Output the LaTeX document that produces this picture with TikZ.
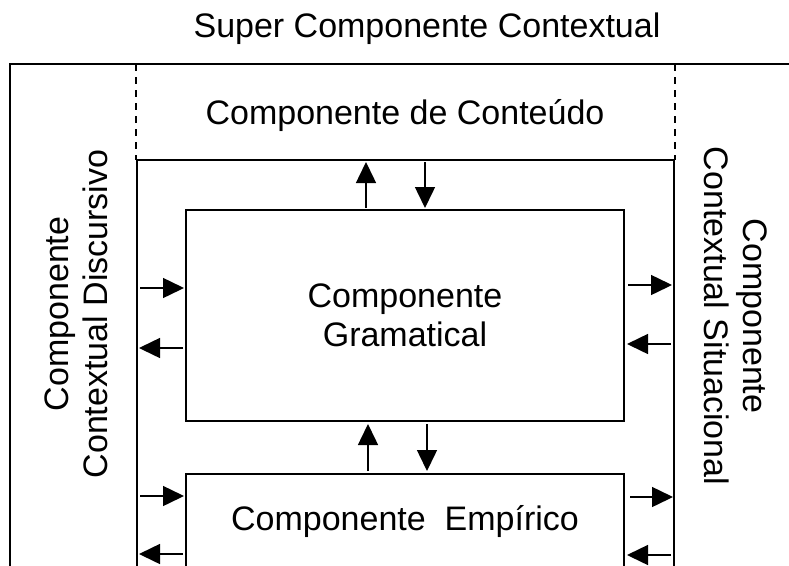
\documentclass[tikz,border=0pt]{standalone}
\usepackage{fontspec}
\setmainfont{Liberation Sans}
\usetikzlibrary{arrows.meta}
\begin{document}
\begin{tikzpicture}[x=1pt,y=-1pt,
  frame/.style={line width=1.4pt,draw=black},
  divline/.style={line width=1.3pt,dash pattern=on 7pt off 6pt},
  flow/.style={line width=1.5pt,-{Triangle[length=21pt,width=20pt]}},
  lbl/.style={font=\fontsize{34}{39}\selectfont,align=center,inner sep=0pt}]
\useasboundingbox (0,0) rectangle (789,565);
\clip (0,0) rectangle (789,565);
% title
\node[lbl] (title) at (427,29) {Super Componente Contextual};
% outer frame
\coordinate (oTL) at (10,64);
\coordinate (oTR) at (790,64);
\coordinate (oBL) at (10,566);
\draw[frame] (oBL) -- (oTL) -- (oTR);
% dashed dividers
\coordinate (dL1) at (136,64); \coordinate (dL2) at (136,160);
\coordinate (dR1) at (675,64); \coordinate (dR2) at (675,160);
\draw[divline] (dL1) -- (dL2);
\draw[divline] (dR1) -- (dR2);
% content box (middle)
\coordinate (mTL) at (137,160); \coordinate (mTR) at (674,160);
\coordinate (mBL) at (137,566); \coordinate (mBR) at (674,566);
\draw[frame] (mBL) -- (mTL) -- (mTR) -- (mBR);
\node[lbl] (conteudo) at (405,116) {Componente de Conteúdo};
% gramatical box
\node[frame,minimum width=438pt,minimum height=211pt,inner sep=0pt] (gram) at (405,315.5) {};
\node[lbl] at (gram.center) (gramtxt) {Componente\\Gramatical};
% empirico box
\coordinate (eTL) at (186,474); \coordinate (eTR) at (624,474);
\coordinate (eBL) at (186,566); \coordinate (eBR) at (624,566);
\draw[frame] (eBL) -- (eTL) -- (eTR) -- (eBR);
\node[lbl] (emp) at (405,522) {Componente\ \ Empírico};
% side labels
\node[lbl,rotate=90] (left) at (76,314) {Componente\\Contextual Discursivo};
\node[lbl,rotate=-90] (right) at (736,316) {Componente\\Contextual Situacional};
% vertical arrows top
\coordinate (t1a) at (366,208); \coordinate (t1b) at (366,162);
\coordinate (t2a) at (425,162); \coordinate (t2b) at (425,208);
\draw[flow] (t1a) -- (t1b);
\draw[flow] (t2a) -- (t2b);
% vertical arrows bottom
\coordinate (b1a) at (368,471); \coordinate (b1b) at (368,424);
\coordinate (b2a) at (427,424); \coordinate (b2b) at (427,471);
\draw[flow] (b1a) -- (b1b);
\draw[flow] (b2a) -- (b2b);
% left arrows
\coordinate (l1a) at (140,288); \coordinate (l1b) at (184,288);
\coordinate (l2a) at (183,348); \coordinate (l2b) at (139,348);
\coordinate (l3a) at (140,496); \coordinate (l3b) at (184,496);
\coordinate (l4a) at (183,554); \coordinate (l4b) at (139,554);
\draw[flow] (l1a) -- (l1b);
\draw[flow] (l2a) -- (l2b);
\draw[flow] (l3a) -- (l3b);
\draw[flow] (l4a) -- (l4b);
% right arrows
\coordinate (r1a) at (628,285); \coordinate (r1b) at (672,285);
\coordinate (r2a) at (671,344); \coordinate (r2b) at (627,344);
\coordinate (r3a) at (630,497); \coordinate (r3b) at (673,497);
\coordinate (r4a) at (671,555); \coordinate (r4b) at (627,555);
\draw[flow] (r1a) -- (r1b);
\draw[flow] (r2a) -- (r2b);
\draw[flow] (r3a) -- (r3b);
\draw[flow] (r4a) -- (r4b);
\end{tikzpicture}
\end{document}
